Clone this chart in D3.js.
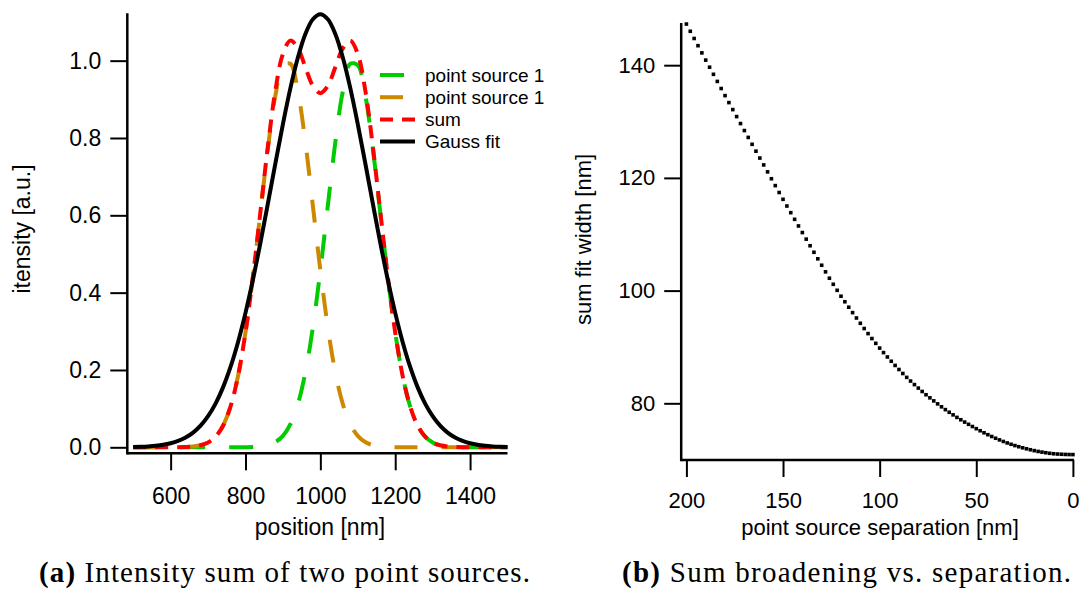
<!DOCTYPE html>
<meta charset="utf-8">
<style>
body { margin: 0; background: #fff; }
svg { display: block; background: #fff; }
.axis text { font-family: "Liberation Sans", Arial, sans-serif; fill: #000; }
.axis line { stroke: #000; stroke-width: 2; }
.title { font-family: "Liberation Sans", Arial, sans-serif; fill: #000; }
.caption { font-family: "Liberation Serif", "Times New Roman", serif; font-size: 29px; fill: #000; }
</style>
<svg width="1083" height="591"></svg>
<script src="https://d3js.org/d3.v7.min.js"></script>
<script>

// left panel: intensity profiles (position in nm)
var positions = [500,520,540,560,580,600,620,640,660,680,700,720,740,760,780,800,820,840,860,880,
  900,920,940,960,980,1000,1020,1040,1060,1080,1100,1120,1140,1160,1180,1200,1220,1240,1260,1280,
  1300,1320,1340,1360,1380,1400,1420,1440,1460,1480,1500];

var source1 = [0,0,0,0,0,0,0,0,0,0,0,0,0,0,0.0001,0.0003,0.0008,0.0022,0.0057,0.0135,
  0.0295,0.0598,0.112,0.194,0.310,0.458,0.625,0.789,0.920,0.992,0.988,0.910,0.774,0.608,0.442,0.297,
  0.184,0.1055,0.0559,0.0274,0.0124,0.0052,0.0020,0.0007,0.0002,0.0001,0,0,0,0,0];

var source2 = [0,0,0,0,0,0.0001,0.0002,0.0007,0.0020,0.0052,0.0124,0.0274,0.0559,0.1055,0.184,0.297,
  0.442,0.608,0.774,0.910,0.988,0.992,0.920,0.789,0.625,0.458,0.310,0.194,0.112,0.0598,0.0295,0.0135,
  0.0057,0.0022,0.0008,0.0003,0.0001,0,0,0,0,0,0,0,0,0,0,0,0,0,0];

var sumValues = [0,0,0,0,0,0.0001,0.0002,0.0007,0.0020,0.0052,0.0124,0.0274,0.0559,0.1055,0.1841,0.2973,
  0.4428,0.6102,0.7797,0.9235,1.0175,1.0518,1.032,0.983,0.935,0.916,0.935,0.983,1.032,1.0518,1.0175,
  0.9235,0.7797,0.6102,0.4428,0.2973,0.1841,0.1055,0.0559,0.0274,0.0124,0.0052,0.0020,0.0007,0.0002,
  0.0001,0,0,0,0,0];

var gaussFit = [0.0007,0.0013,0.0023,0.0039,0.0064,0.0104,0.0164,0.0253,0.0381,0.0560,0.0805,0.1131,
  0.1550,0.2078,0.2719,0.3477,0.4341,0.5297,0.6313,0.7349,0.8360,0.9289,1.0081,1.0688,1.107,1.12,
  1.107,1.0688,1.0081,0.9289,0.8360,0.7349,0.6313,0.5297,0.4341,0.3477,0.2719,0.2078,0.1550,0.1131,
  0.0805,0.0560,0.0381,0.0253,0.0164,0.0104,0.0064,0.0039,0.0023,0.0013,0.0007];

var seriesNames = ["point source 1", "point source 1", "sum", "Gauss fit"];
var leftXTicks = [600, 800, 1000, 1200, 1400];
var leftYTicks = [0, 0.2, 0.4, 0.6, 0.8, 1.0];

// right panel: fit width vs separation
var separations = [0,2,4,6,8,10,12,14,16,18,20,22,24,26,28,30,32,34,36,38,40,42,44,46,48,50,
  52,54,56,58,60,62,64,66,68,70,72,74,76,78,80,82,84,86,88,90,92,94,96,98,100,
  102,104,106,108,110,112,114,116,118,120,122,124,126,128,130,132,134,136,138,140,
  142,144,146,148,150,152,154,156,158,160,162,164,166,168,170,172,174,176,178,180,
  182,184,186,188,190,192,194,196,198,200];

var fitWidths = [70.90,70.91,70.93,70.96,71.00,71.05,
  71.13,71.23,71.34,71.46,71.60, 71.76,71.93,72.11,72.30,72.50,
  72.73,72.97,73.23,73.51,73.80, 74.11,74.43,74.77,75.13,75.50,
  75.88,76.27,76.67,77.08,77.50, 77.95,78.41,78.88,79.38,79.90,
  80.43,80.97,81.52,82.10,82.70, 83.32,83.95,84.60,85.29,86.00,
  86.72,87.46,88.22,89.00,89.80, 90.64,91.49,92.37,93.27,94.20,
  95.14,96.09,97.05,98.02,99.00, 100.05,101.12,102.20,103.33,104.50,
  105.64,106.80,107.96,109.13,110.30, 111.47,112.65,113.83,115.01,116.20,
  117.41,118.63,119.85,121.07,122.30, 123.52,124.74,125.96,127.18,128.40,
  129.64,130.88,132.12,133.36,134.60, 135.86,137.12,138.38,139.64,140.90,
  142.18,143.46,144.74,146.02,147.30];

var rightXTicks = [200, 150, 100, 50, 0];
var rightYTicks = [80, 100, 120, 140];

var svg = d3.select("svg");

// ---------- left panel ----------
var xL = d3.scaleLinear().domain([500, 1500]).range([133.2, 507.5]);
var yL = d3.scaleLinear().domain([-0.0155, 1.1225]).range([453.3, 13.3]);

var gxL = svg.append("g").attr("class", "axis")
  .attr("transform", "translate(0,453.3)")
  .call(d3.axisBottom(xL).tickValues(leftXTicks).tickFormat(d3.format("d"))
    .tickSize(17).tickPadding(17).tickSizeOuter(0));
gxL.select(".domain").remove();
gxL.selectAll("text").style("font-size", "23px");

var gyL = svg.append("g").attr("class", "axis")
  .attr("transform", "translate(127.3,0)")
  .call(d3.axisLeft(yL).tickValues(leftYTicks).tickFormat(d3.format(".1f")).tickSize(17).tickPadding(9).tickSizeOuter(0));
gyL.select(".domain").remove();
gyL.selectAll("text").style("font-size", "23px");

svg.append("line").attr("x1", 127.3).attr("x2", 507.5).attr("y1", 453.3).attr("y2", 453.3)
  .attr("stroke", "#000").attr("stroke-width", 2.5);
svg.append("line").attr("x1", 127.3).attr("x2", 127.3).attr("y1", 13.3).attr("y2", 454.5)
  .attr("stroke", "#000").attr("stroke-width", 2.5);

var styles = [
  { values: source1, color: "#00cc00", dash: "24,24", width: 4 },
  { values: source2, color: "#cc8800", dash: "23,24", width: 4 },
  { values: sumValues, color: "#ff0000", dash: "13,9", width: 4 },
  { values: gaussFit, color: "#000000", dash: null, width: 4 }
];

var lineL = d3.line()
  .x(function(d, i) { return xL(positions[i]); })
  .y(function(d) { return yL(d); })
  .curve(d3.curveCatmullRom);

styles.forEach(function(s) {
  svg.append("path")
    .attr("d", lineL(s.values))
    .attr("fill", "none")
    .attr("stroke", s.color)
    .attr("stroke-width", s.width)
    .attr("stroke-dasharray", s.dash);
});

// legend
var legend = svg.append("g");
styles.forEach(function(s, i) {
  var y = 75 + i * 22.2;
  legend.append("line").attr("x1", 380).attr("x2", 415).attr("y1", y).attr("y2", y)
    .attr("stroke", s.color).attr("stroke-width", 4).attr("stroke-dasharray", s.dash);
  legend.append("text").attr("class", "title").attr("x", 425).attr("y", y).attr("dy", "0.36em")
    .style("font-size", "19px").text(seriesNames[i]);
});

svg.append("text").attr("class", "title").attr("text-anchor", "middle")
  .attr("x", 320).attr("y", 535).style("font-size", "23px").text("position [nm]");
svg.append("text").attr("class", "title").attr("text-anchor", "middle")
  .attr("transform", "translate(30,229) rotate(-90)").style("font-size", "23px").text("itensity [a.u.]");

// ---------- right panel ----------
var xR = d3.scaleLinear().domain([200, 0]).range([686.4, 1072.9]);
var yR = d3.scaleLinear().domain([69.94, 147.45]).range([460, 23.2]);

var gxR = svg.append("g").attr("class", "axis")
  .attr("transform", "translate(0,460)")
  .call(d3.axisBottom(xR).tickValues(rightXTicks).tickSize(17).tickPadding(15).tickSizeOuter(0));
gxR.select(".domain").remove();
gxR.selectAll("text").style("font-size", "22px");

var gyR = svg.append("g").attr("class", "axis")
  .attr("transform", "translate(681.2,0)")
  .call(d3.axisLeft(yR).tickValues(rightYTicks).tickSize(17).tickPadding(9).tickSizeOuter(0));
gyR.select(".domain").remove();
gyR.selectAll("text").style("font-size", "22px");

svg.append("line").attr("x1", 681.2).attr("x2", 1074).attr("y1", 460).attr("y2", 460)
  .attr("stroke", "#000").attr("stroke-width", 2.5);
svg.append("line").attr("x1", 681.2).attr("x2", 681.2).attr("y1", 23).attr("y2", 461.2)
  .attr("stroke", "#000").attr("stroke-width", 2.5);

svg.append("g").selectAll("rect")
  .data(fitWidths)
  .join("rect")
  .attr("x", function(d, i) { return xR(separations[i]) - 1.8; })
  .attr("y", function(d) { return yR(d) - 1.8; })
  .attr("width", 3.6)
  .attr("height", 3.6)
  .attr("fill", "#000");

svg.append("text").attr("class", "title").attr("text-anchor", "middle")
  .attr("x", 880).attr("y", 535).style("font-size", "22px").text("point source separation [nm]");
svg.append("text").attr("class", "title").attr("text-anchor", "middle")
  .attr("transform", "translate(591,239.5) rotate(-90)").style("font-size", "22px").text("sum fit width [nm]");

// ---------- captions ----------
var capA = svg.append("text").attr("class", "caption").attr("x", 39).attr("y", 581.7)
  .attr("textLength", 491).attr("lengthAdjust", "spacing");
capA.append("tspan").style("font-weight", "bold").text("(a)");
capA.append("tspan").text(" Intensity sum of two point sources.");

var capB = svg.append("text").attr("class", "caption").attr("x", 622).attr("y", 581.7)
  .attr("textLength", 449).attr("lengthAdjust", "spacing");
capB.append("tspan").style("font-weight", "bold").text("(b)");
capB.append("tspan").text(" Sum broadening vs. separation.");

</script>
